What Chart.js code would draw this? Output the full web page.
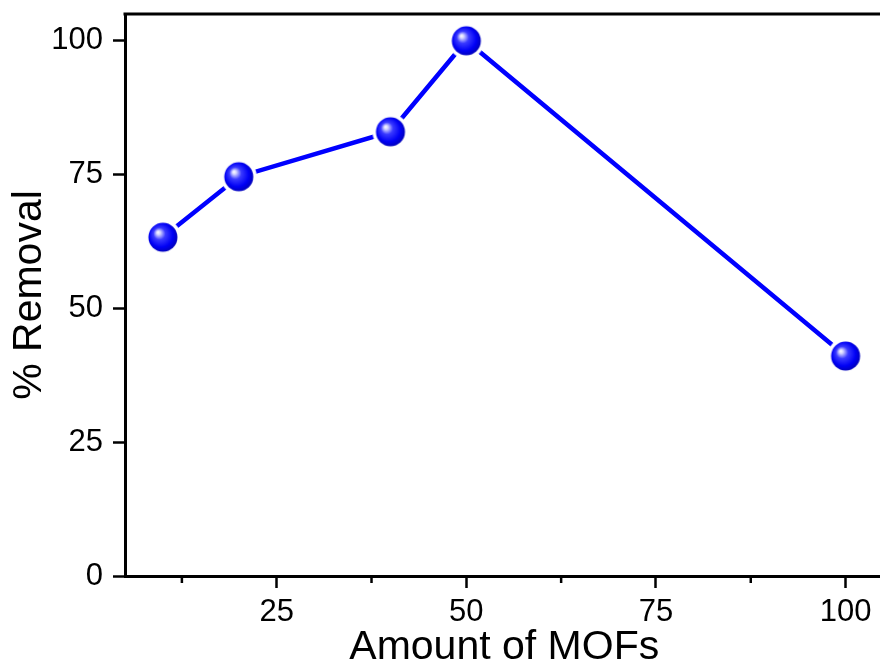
<!DOCTYPE html>
<html>
<head>
<meta charset="utf-8">
<script src="https://cdn.jsdelivr.net/npm/chart.js@4"></script>
<style>
  html, body { margin: 0; padding: 0; background: #fff; overflow: hidden; }
  canvas { display: block; }
</style>
</head>
<body>
<canvas id="chart" width="892" height="666"></canvas>
<script>
const amounts = [10, 20, 40, 50, 100];
const removal = [63.3, 74.6, 83.0, 100, 41.1];
const xTicks = [25, 50, 75, 100];
const xMinorTicks = [12.5, 37.5, 62.5, 87.5];
const yTicks = [0, 25, 50, 75, 100];

const FONT = '"Liberation Sans", Arial, sans-serif';

// shiny ball marker
function makeBall() {
  const size = 38;
  const c = size / 2;
  const cv = document.createElement('canvas');
  cv.width = size;
  cv.height = size;
  const ctx = cv.getContext('2d');
  ctx.fillStyle = '#ffffff';
  ctx.beginPath();
  ctx.arc(c, c, 18, 0, Math.PI * 2);
  ctx.fill();
  const g = ctx.createRadialGradient(c - 5, c - 5, 0, c - 1, c - 1, 16);
  g.addColorStop(0, '#ffffff');
  g.addColorStop(0.12, '#d6d6ff');
  g.addColorStop(0.38, '#3a3aff');
  g.addColorStop(0.75, '#0000f5');
  g.addColorStop(1, '#0000b8');
  ctx.fillStyle = g;
  ctx.beginPath();
  ctx.arc(c, c, 14.5, 0, Math.PI * 2);
  ctx.fill();
  return cv;
}

const frame = {
  id: 'frame',
  afterDraw(chart) {
    const { ctx, chartArea } = chart;
    const x = chart.scales.x;
    ctx.save();
    ctx.strokeStyle = '#000';
    ctx.lineWidth = 3;
    ctx.beginPath();
    ctx.moveTo(chartArea.left - 1.5, chartArea.top);
    ctx.lineTo(chartArea.right, chartArea.top);
    ctx.stroke();
    ctx.lineWidth = 2.5;
    xMinorTicks.forEach((v) => {
      const px = x.getPixelForValue(v);
      ctx.beginPath();
      ctx.moveTo(px, chartArea.bottom);
      ctx.lineTo(px, chartArea.bottom + 7);
      ctx.stroke();
    });
    ctx.restore();
  },
};

new Chart(document.getElementById('chart'), {
  type: 'line',
  data: {
    datasets: [
      {
        data: amounts.map((a, i) => ({ x: a, y: removal[i] })),
        borderColor: '#0000ff',
        borderWidth: 4.5,
        tension: 0,
        pointStyle: makeBall(),
        clip: false,
      },
    ],
  },
  options: {
    responsive: false,
    animation: false,
    layout: { padding: { top: 14, left: 0, right: 0, bottom: 0 } },
    plugins: { legend: { display: false }, tooltip: { enabled: false } },
    scales: {
      x: {
        type: 'linear',
        min: 5,
        max: 105,
        afterBuildTicks: (s) => { s.ticks = xTicks.map((v) => ({ value: v })); },
        afterFit: (s) => {
          s.height = 90;
          s.paddingLeft = 0;
          s.paddingRight = 0;
        },
        border: { color: '#000', width: 3 },
        grid: { drawOnChartArea: false, tickLength: 12, tickColor: '#000', tickWidth: 2.5 },
        ticks: { color: '#000', padding: 6, font: { family: FONT, size: 31 } },
        title: {
          display: true,
          text: 'Amount of MOFs',
          color: '#000',
          padding: 0,
          font: { family: FONT, size: 41, lineHeight: 0.9 },
        },
      },
      y: {
        min: 0,
        max: 105,
        afterBuildTicks: (s) => { s.ticks = yTicks.map((v) => ({ value: v })); },
        afterFit: (s) => {
          s.width = 125;
          s.paddingTop = 0;
          s.paddingBottom = 0;
        },
        border: { color: '#000', width: 3 },
        grid: { drawOnChartArea: false, tickLength: 12, tickColor: '#000', tickWidth: 2.5 },
        ticks: { color: '#000', padding: 10, font: { family: FONT, size: 31 } },
        title: {
          display: true,
          text: '% Removal',
          color: '#000',
          padding: { top: 5, bottom: 0 },
          font: { family: FONT, size: 41, lineHeight: 1.2 },
        },
      },
    },
  },
  plugins: [frame],
});
</script>
</body>
</html>
